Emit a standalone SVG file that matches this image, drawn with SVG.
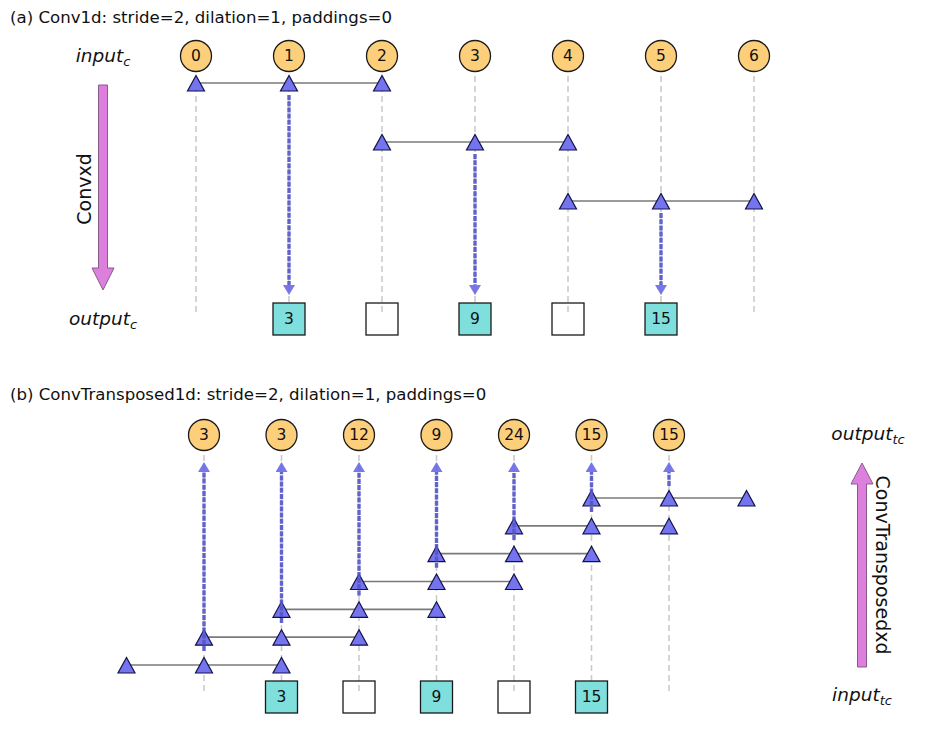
<svg xmlns="http://www.w3.org/2000/svg" xmlns:xlink="http://www.w3.org/1999/xlink" width="950" height="733" viewBox="0 0 950 733">
<style>
  text { font-family: "DejaVu Sans", "Liberation Sans", sans-serif; fill: #111; }
  .title { font-size: 16.6px; }
  .num { font-size: 15.5px; text-anchor: middle; dominant-baseline: central; }
  .lab { font-size: 18.5px; font-style: italic; text-anchor: middle; }
  .sub { font-size: 13px; }
  .rot { font-size: 19px; text-anchor: middle; }
  .circ { fill: #fdcf7b; stroke: #1a1a1a; stroke-width: 1.3; }
  .sq { fill: #7fdfdc; stroke: #1a1a1a; stroke-width: 1.3; }
  .sqe { fill: none; stroke: #1a1a1a; stroke-width: 1.3; }
  .tri { fill: #7474ee; stroke: #12124a; stroke-width: 1.2; }
  .guide { stroke: #cbcbcb; stroke-width: 1.6; stroke-dasharray: 6 4; fill: none; }
  .hline { stroke: #7a7a7a; stroke-width: 1.7; fill: none; }
  .flow { stroke: #5454c8; stroke-width: 3.4; stroke-dasharray: 5 1.2; fill: none; opacity: 0.9; }
  .big { fill: #dd80dd; stroke: #8a5a8a; stroke-width: 1; }
</style>
<defs>
  <path id="tri" d="M0,-7.5 L-8.5,8 L8.5,8 Z"/>
  <marker id="ah" viewBox="0 0 10 12" refX="0" refY="6" markerWidth="10" markerHeight="12" markerUnits="userSpaceOnUse" orient="auto">
    <path d="M0,0 L10,6 L0,12 Z" fill="#6a6ae6"/>
  </marker>
</defs>

<!-- titles -->
<text class="title" x="10" y="23">(a) Conv1d: stride=2, dilation=1, paddings=0</text>
<text class="title" x="10" y="400">(b) ConvTransposed1d: stride=2, dilation=1, paddings=0</text>

<g id="connectors">
  <g id="guides-a">
    <line class="guide" x1="196" y1="56" x2="196" y2="313"/>
    <line class="guide" x1="289" y1="56" x2="289" y2="313"/>
    <line class="guide" x1="382" y1="56" x2="382" y2="313"/>
    <line class="guide" x1="475" y1="56" x2="475" y2="313"/>
    <line class="guide" x1="568" y1="56" x2="568" y2="313"/>
    <line class="guide" x1="661" y1="56" x2="661" y2="313"/>
    <line class="guide" x1="754" y1="56" x2="754" y2="313"/>
  </g>
  <g id="guides-b">
    <line class="guide" x1="204" y1="435" x2="204" y2="691"/>
    <line class="guide" x1="281.5" y1="435" x2="281.5" y2="691"/>
    <line class="guide" x1="359" y1="435" x2="359" y2="691"/>
    <line class="guide" x1="436.5" y1="435" x2="436.5" y2="691"/>
    <line class="guide" x1="514" y1="435" x2="514" y2="691"/>
    <line class="guide" x1="591.5" y1="435" x2="591.5" y2="691"/>
    <line class="guide" x1="669" y1="435" x2="669" y2="691"/>
  </g>
  <g id="kernel-lines-a">
    <line class="hline" x1="196" y1="83" x2="382" y2="83"/>
    <line class="hline" x1="382" y1="142" x2="568" y2="142"/>
    <line class="hline" x1="568" y1="201" x2="754" y2="201"/>
  </g>
  <g id="kernel-lines-b">
    <line class="hline" x1="126.5" y1="665" x2="281.5" y2="665"/>
    <line class="hline" x1="204" y1="637.2" x2="359" y2="637.2"/>
    <line class="hline" x1="281.5" y1="609.3" x2="436.5" y2="609.3"/>
    <line class="hline" x1="359" y1="581.5" x2="514" y2="581.5"/>
    <line class="hline" x1="436.5" y1="553.7" x2="591.5" y2="553.7"/>
    <line class="hline" x1="514" y1="525.8" x2="669" y2="525.8"/>
    <line class="hline" x1="591.5" y1="498" x2="746.5" y2="498"/>
  </g>
</g>

<!-- (a) input nodes -->
<g id="in-a-0"><circle class="circ" cx="196" cy="56" r="15.5"/><text class="num" x="196" y="56">0</text></g>
<g id="in-a-1"><circle class="circ" cx="289" cy="56" r="15.5"/><text class="num" x="289" y="56">1</text></g>
<g id="in-a-2"><circle class="circ" cx="382" cy="56" r="15.5"/><text class="num" x="382" y="56">2</text></g>
<g id="in-a-3"><circle class="circ" cx="475" cy="56" r="15.5"/><text class="num" x="475" y="56">3</text></g>
<g id="in-a-4"><circle class="circ" cx="568" cy="56" r="15.5"/><text class="num" x="568" y="56">4</text></g>
<g id="in-a-5"><circle class="circ" cx="661" cy="56" r="15.5"/><text class="num" x="661" y="56">5</text></g>
<g id="in-a-6"><circle class="circ" cx="754" cy="56" r="15.5"/><text class="num" x="754" y="56">6</text></g>

<!-- (a) kernel triangles -->
<g id="kernel-a-0">
  <use href="#tri" class="tri" x="196" y="83"/><use href="#tri" class="tri" x="289" y="83"/><use href="#tri" class="tri" x="382" y="83"/>
</g>
<g id="kernel-a-1">
  <use href="#tri" class="tri" x="382" y="142"/><use href="#tri" class="tri" x="475" y="142"/><use href="#tri" class="tri" x="568" y="142"/>
</g>
<g id="kernel-a-2">
  <use href="#tri" class="tri" x="568" y="201"/><use href="#tri" class="tri" x="661" y="201"/><use href="#tri" class="tri" x="754" y="201"/>
</g>

<!-- (a) output nodes -->
<g id="out-a-1"><rect class="sq" x="273" y="303" width="32" height="32"/><text class="num" x="289" y="319">3</text></g>
<g id="out-a-2"><rect class="sqe" x="366" y="303" width="32" height="32"/></g>
<g id="out-a-3"><rect class="sq" x="459" y="303" width="32" height="32"/><text class="num" x="475" y="319">9</text></g>
<g id="out-a-4"><rect class="sqe" x="552" y="303" width="32" height="32"/></g>
<g id="out-a-5"><rect class="sq" x="645" y="303" width="32" height="32"/><text class="num" x="661" y="319">15</text></g>

<!-- (b) output nodes (top) -->
<g id="out-b-0"><circle class="circ" cx="204" cy="435" r="15.5"/><text class="num" x="204" y="435">3</text></g>
<g id="out-b-1"><circle class="circ" cx="281.5" cy="435" r="15.5"/><text class="num" x="281.5" y="435">3</text></g>
<g id="out-b-2"><circle class="circ" cx="359" cy="435" r="15.5"/><text class="num" x="359" y="435">12</text></g>
<g id="out-b-3"><circle class="circ" cx="436.5" cy="435" r="15.5"/><text class="num" x="436.5" y="435">9</text></g>
<g id="out-b-4"><circle class="circ" cx="514" cy="435" r="15.5"/><text class="num" x="514" y="435">24</text></g>
<g id="out-b-5"><circle class="circ" cx="591.5" cy="435" r="15.5"/><text class="num" x="591.5" y="435">15</text></g>
<g id="out-b-6"><circle class="circ" cx="669" cy="435" r="15.5"/><text class="num" x="669" y="435">15</text></g>

<!-- (b) kernel triangles -->
<g id="kernel-b-0"><use href="#tri" class="tri" x="126.5" y="665"/><use href="#tri" class="tri" x="204" y="665"/><use href="#tri" class="tri" x="281.5" y="665"/></g>
<g id="kernel-b-1"><use href="#tri" class="tri" x="204" y="637.2"/><use href="#tri" class="tri" x="281.5" y="637.2"/><use href="#tri" class="tri" x="359" y="637.2"/></g>
<g id="kernel-b-2"><use href="#tri" class="tri" x="281.5" y="609.3"/><use href="#tri" class="tri" x="359" y="609.3"/><use href="#tri" class="tri" x="436.5" y="609.3"/></g>
<g id="kernel-b-3"><use href="#tri" class="tri" x="359" y="581.5"/><use href="#tri" class="tri" x="436.5" y="581.5"/><use href="#tri" class="tri" x="514" y="581.5"/></g>
<g id="kernel-b-4"><use href="#tri" class="tri" x="436.5" y="553.7"/><use href="#tri" class="tri" x="514" y="553.7"/><use href="#tri" class="tri" x="591.5" y="553.7"/></g>
<g id="kernel-b-5"><use href="#tri" class="tri" x="514" y="525.8"/><use href="#tri" class="tri" x="591.5" y="525.8"/><use href="#tri" class="tri" x="669" y="525.8"/></g>
<g id="kernel-b-6"><use href="#tri" class="tri" x="591.5" y="498"/><use href="#tri" class="tri" x="669" y="498"/><use href="#tri" class="tri" x="746.5" y="498"/></g>

<!-- (b) input nodes (bottom) -->
<g id="in-b-1"><rect class="sq" x="265.5" y="681" width="32" height="32"/><text class="num" x="281.5" y="697">3</text></g>
<g id="in-b-2"><rect class="sqe" x="343" y="681" width="32" height="32"/></g>
<g id="in-b-3"><rect class="sq" x="420.5" y="681" width="32" height="32"/><text class="num" x="436.5" y="697">9</text></g>
<g id="in-b-4"><rect class="sqe" x="498" y="681" width="32" height="32"/></g>
<g id="in-b-5"><rect class="sq" x="575.5" y="681" width="32" height="32"/><text class="num" x="591.5" y="697">15</text></g>

<!-- flow arrows -->
<g id="flow-arrows">
  <line class="flow" x1="289" y1="95" x2="289" y2="285" marker-end="url(#ah)"/>
  <line class="flow" x1="475" y1="154" x2="475" y2="285" marker-end="url(#ah)"/>
  <line class="flow" x1="661" y1="213" x2="661" y2="285" marker-end="url(#ah)"/>
  <line class="flow" x1="204" y1="651" x2="204" y2="472" marker-end="url(#ah)"/>
  <line class="flow" x1="281.5" y1="623" x2="281.5" y2="472" marker-end="url(#ah)"/>
  <line class="flow" x1="359" y1="595.5" x2="359" y2="472" marker-end="url(#ah)"/>
  <line class="flow" x1="436.5" y1="567.7" x2="436.5" y2="472" marker-end="url(#ah)"/>
  <line class="flow" x1="514" y1="540" x2="514" y2="472" marker-end="url(#ah)"/>
  <line class="flow" x1="591.5" y1="512" x2="591.5" y2="472" marker-end="url(#ah)"/>
  <line class="flow" x1="669" y1="486" x2="669" y2="472" marker-end="url(#ah)"/>
</g>

<!-- labels and direction arrows -->
<g id="label-input-c"><text class="lab" x="103" y="62">input<tspan class="sub" dy="4">c</tspan></text></g>
<g id="label-output-c"><text class="lab" x="103" y="325">output<tspan class="sub" dy="4">c</tspan></text></g>
<g id="arrow-convxd">
  <path class="big" d="M98.5,85 L107.5,85 L107.5,268 L114,268 L103,290 L92,268 L98.5,268 Z"/>
  <text class="rot" transform="translate(91,189) rotate(-90)">Convxd</text>
</g>
<g id="label-output-tc"><text class="lab" x="868" y="440">output<tspan class="sub" dy="4">tc</tspan></text></g>
<g id="label-input-tc"><text class="lab" x="862" y="701">input<tspan class="sub" dy="4">tc</tspan></text></g>
<g id="arrow-convtransposedxd">
  <path class="big" d="M857.5,667 L866.5,667 L866.5,484 L873,484 L862,463 L851,484 L857.5,484 Z"/>
  <text class="rot" transform="translate(876,565) rotate(90)">ConvTransposedxd</text>
</g>
</svg>
